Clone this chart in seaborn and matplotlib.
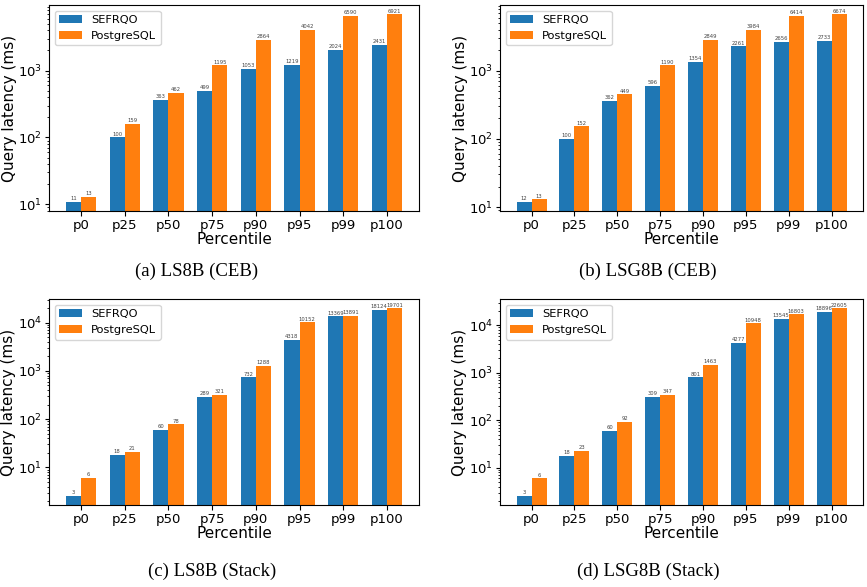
import matplotlib
matplotlib.use("Agg")
import matplotlib.pyplot as plt
import seaborn as sns
import pandas as pd

percentiles = ["p0", "p25", "p50", "p75", "p90", "p95", "p99", "p100"]
systems = ["SEFRQO", "PostgreSQL"]

ls8b_ceb_sefrqo = [11, 100, 363, 499, 1053, 1219, 2024, 2431]
ls8b_ceb_pg = [13, 159, 462, 1195, 2864, 4042, 6590, 6921]
lsg8b_ceb_sefrqo = [12, 100, 362, 596, 1354, 2261, 2656, 2733]
lsg8b_ceb_pg = [13, 152, 449, 1190, 2849, 3984, 6414, 6674]
ls8b_stack_sefrqo = [2.6, 18, 60, 289, 732, 4318, 13369, 18124]
ls8b_stack_pg = [6, 21, 78, 321, 1288, 10152, 13891, 19701]
lsg8b_stack_sefrqo = [2.6, 18, 60, 309, 801, 4277, 13545, 18896]
lsg8b_stack_pg = [6, 23, 92, 347, 1463, 10948, 16803, 22605]

captions = ["(a) LS8B (CEB)", "(b) LSG8B (CEB)", "(c) LS8B (Stack)", "(d) LSG8B (Stack)"]
panels = [
    (ls8b_ceb_sefrqo, ls8b_ceb_pg),
    (lsg8b_ceb_sefrqo, lsg8b_ceb_pg),
    (ls8b_stack_sefrqo, ls8b_stack_pg),
    (lsg8b_stack_sefrqo, lsg8b_stack_pg),
]

W, H = 867, 587
fig = plt.figure(figsize=(W / 100, H / 100), dpi=100)

# axes boxes in pixels: left, top, right, bottom
boxes = [(49, 5, 419, 211), (500, 5, 863, 211), (49, 299, 419, 505), (500, 299, 863, 505)]
cap_pos = [(197, 271), (648, 271), (212, 571), (648, 571)]

for (sef, pg), (l, t, r, b), cap, (cx, cy) in zip(panels, boxes, captions, cap_pos):
    ax = fig.add_axes([l / W, 1 - b / H, (r - l) / W, (b - t) / H])
    df = pd.DataFrame({
        "Percentile": percentiles * 2,
        "lat": list(sef) + list(pg),
        "system": [systems[0]] * len(sef) + [systems[1]] * len(pg),
    })
    sns.barplot(data=df, x="Percentile", y="lat", hue="system",
                palette=["#1f77b4", "#ff7f0e"], saturation=1, width=0.7,
                ax=ax, errorbar=None)
    ax.set_yscale("log")
    ax.relim()
    ax.autoscale_view()
    for cont in ax.containers:
        ax.bar_label(cont, fmt="%.0f", fontsize=3.8, color="#444444", padding=0.5)
    ax.set_xlabel("Percentile", fontsize=11, labelpad=0)
    ax.set_ylabel("Query latency (ms)", fontsize=11, labelpad=1)
    ax.tick_params(labelsize=9.5, pad=2)
    ax.tick_params(axis="y", which="major", length=3)
    ax.tick_params(axis="y", which="minor", length=1.5)
    ax.legend(loc="upper left", fontsize=8.2, title=None)
    fig.text(cx / W, 1 - cy / H, cap, ha="center", va="center",
             fontsize=13.5, family="Liberation Serif")

fig.savefig("out.png", dpi=100)
